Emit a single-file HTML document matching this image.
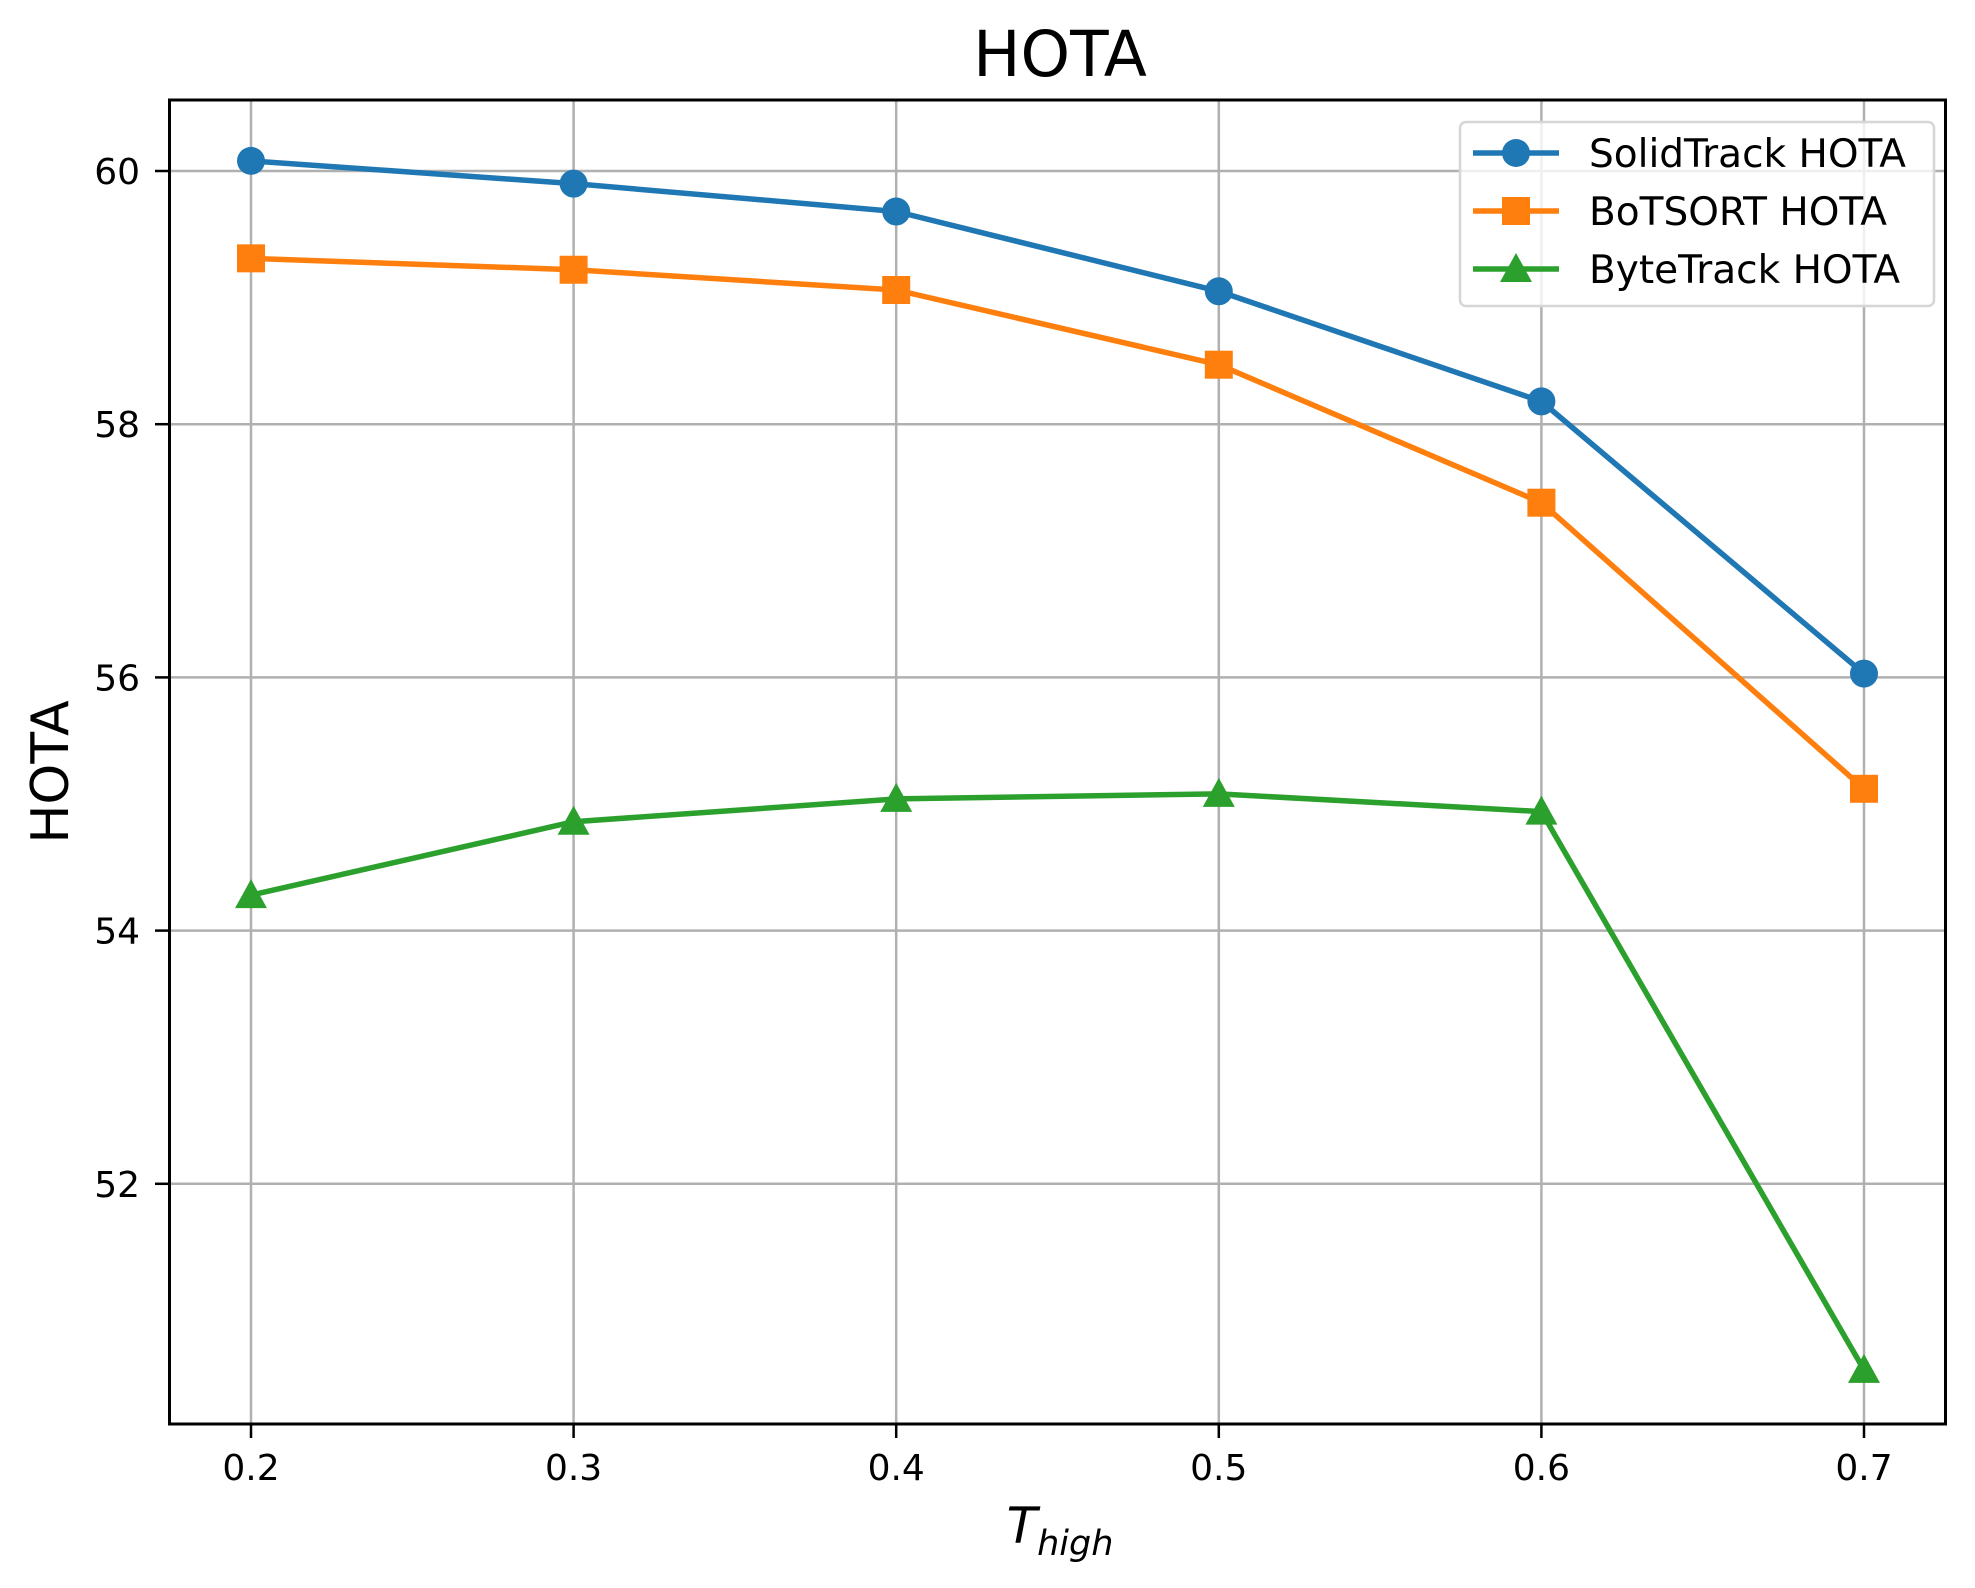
<!DOCTYPE html>
<html><head><meta charset="utf-8"><style>
html,body{margin:0;padding:0;background:#fff;}
svg text{font-family:"DejaVu Sans","Liberation Sans",sans-serif;}
</style></head><body>
<svg id="chart" width="1975" height="1583" viewBox="0 0 1975 1583" xmlns="http://www.w3.org/2000/svg">
<rect width="1975" height="1583" fill="#fff"/>
<g id="grid"></g>
<g id="series"></g>
<rect x="169.5" y="100" width="1776" height="1324" fill="none" stroke="#000" stroke-width="3"/>
<g id="ticks"></g>
<text x="1060" y="76" font-size="63" text-anchor="middle">HOTA</text>
<text x="0" y="0" font-size="52" text-anchor="middle" transform="translate(68,772) rotate(-90)">HOTA</text>
<text x="1060" y="1543" font-size="50" text-anchor="middle" font-style="italic">T<tspan font-size="35" dy="12">high</tspan></text>
<g>
<rect x="1460" y="122" width="474" height="184" rx="6" fill="#fff" fill-opacity="0.8" stroke="#d6d6d6" stroke-width="2.5"/>
<g id="legend-items"></g>
</g>
</svg>
<script>
const categories = [0.2, 0.3, 0.4, 0.5, 0.6, 0.7];
const solidTrack = [60.08, 59.90, 59.68, 59.05, 58.18, 56.03];
const botSort = [59.31, 59.22, 59.06, 58.47, 57.38, 55.12];
const byteTrack = [54.28, 54.86, 55.04, 55.08, 54.94, 50.53];
const yTicks = [52, 54, 56, 58, 60];
const xTickLabels = ["0.2", "0.3", "0.4", "0.5", "0.6", "0.7"];
const seriesNames = ["SolidTrack HOTA", "BoTSORT HOTA", "ByteTrack HOTA"];

const NS = "http://www.w3.org/2000/svg";
function xs(v){ return 251 + (v - 0.2) / 0.1 * 322.6; }
function ys(v){ return 171 + (60 - v) * 126.6; }
function mk(tag, attrs, parent){ const e = document.createElementNS(NS, tag); for (const k in attrs) e.setAttribute(k, attrs[k]); parent.appendChild(e); return e; }

const grid = document.getElementById('grid');
const ticks = document.getElementById('ticks');
categories.forEach((c, i) => {
  const gl = mk('line', {x1: xs(c), x2: xs(c), y1: 100, y2: 1424, stroke: '#b0b0b0', 'stroke-width': 2.5}, grid);
  
  
  const tk = mk('line', {x1: xs(c), x2: xs(c), y1: 1424, y2: 1438, stroke: '#000', 'stroke-width': 2.5}, ticks);
  
  
  const t = mk('text', {x: xs(c), y: 1480, 'font-size': 36, 'text-anchor': 'middle'}, ticks);
  t.textContent = xTickLabels[i];
  
  
});
yTicks.forEach(v => {
  const gl = mk('line', {x1: 169.5, x2: 1945.5, y1: ys(v), y2: ys(v), stroke: '#b0b0b0', 'stroke-width': 2.5}, grid);
  
  
  const tk = mk('line', {x1: 155, x2: 169.5, y1: ys(v), y2: ys(v), stroke: '#000', 'stroke-width': 2.5}, ticks);
  
  
  const t = mk('text', {x: 140, y: ys(v) + 13, 'font-size': 36, 'text-anchor': 'end'}, ticks);
  t.textContent = String(v);
  
  
});

const colors = ['#1f77b4', '#ff7f0e', '#2ca02c'];
const shapes = ['circle', 'square', 'triangle'];
function marker(g, shape, x, y, color, name){
  let e;
  if (shape === 'circle') e = mk('circle', {cx: x, cy: y, r: 14, fill: color}, g);
  else if (shape === 'square') e = mk('rect', {x: x - 14, y: y - 14, width: 28, height: 28, fill: color}, g);
  else e = mk('polygon', {points: `${x},${y-16} ${x-16},${y+13} ${x+16},${y+13}`, fill: color}, g);
  
  
}
const seriesG = document.getElementById('series');
[solidTrack, botSort, byteTrack].forEach((vals, si) => {
  const g = mk('g', {}, seriesG);
  
  
  const pts = vals.map((v, i) => xs(categories[i]) + ',' + ys(v)).join(' ');
  const pl = mk('polyline', {points: pts, fill: 'none', stroke: colors[si], 'stroke-width': 5.5, 'stroke-linejoin': 'round'}, g);
  
  
  vals.forEach((v, i) => marker(g, shapes[si], xs(categories[i]), ys(v), colors[si], 'data-point'));
});

const leg = document.getElementById('legend-items');
seriesNames.forEach((n, i) => {
  const y = 153 + i * 58;
  const g = mk('g', {}, leg);
  
  
  const ln = mk('line', {x1: 1473, x2: 1559, y1: y, y2: y, stroke: colors[i], 'stroke-width': 5.5}, g);
  
  
  marker(g, shapes[i], 1516, y, colors[i], 'legend-marker');
  const t = mk('text', {x: 1589, y: y + 14, 'font-size': 39}, g);
  t.textContent = n;
  
  
});
</script>
</body></html>
